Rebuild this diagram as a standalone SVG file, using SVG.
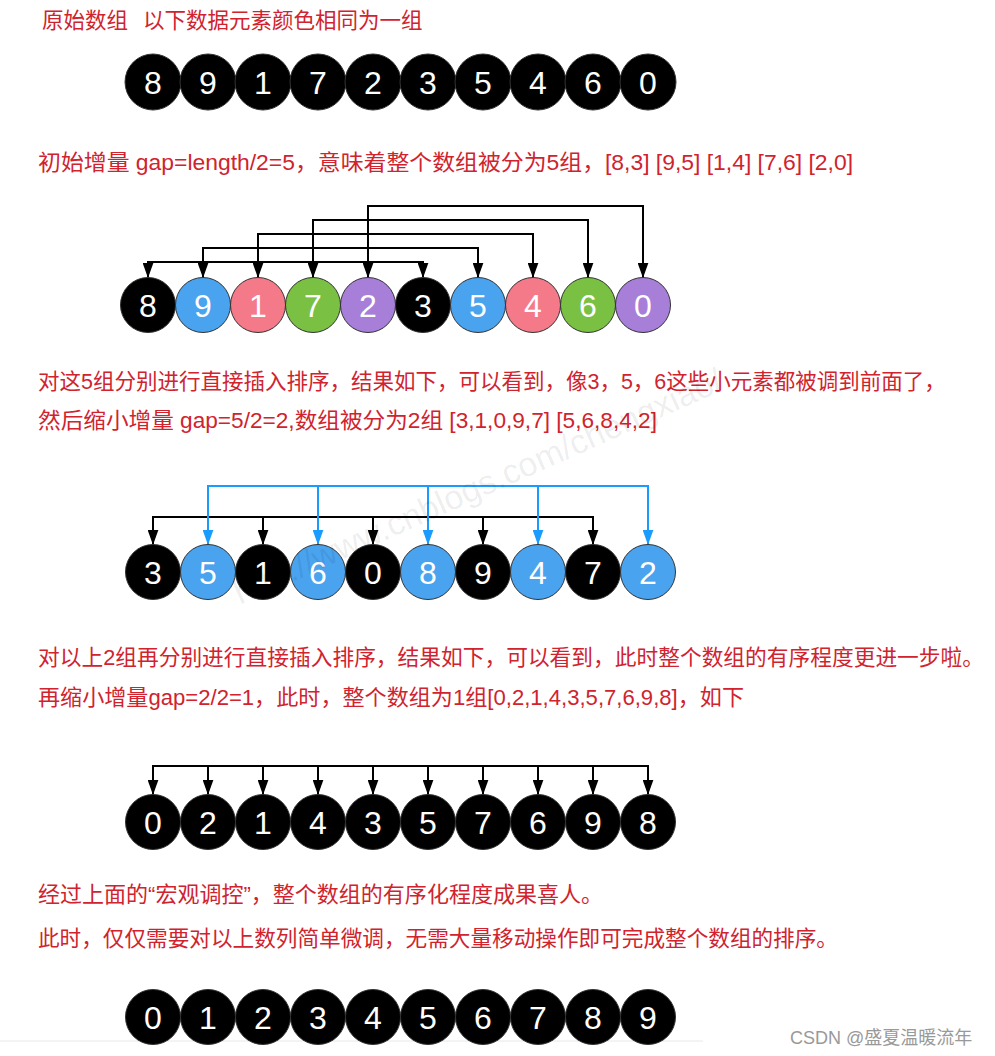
<svg xmlns="http://www.w3.org/2000/svg" width="995" height="1056" viewBox="0 0 995 1056">
<style>
.t{font-family:"Liberation Sans","Noto Sans CJK SC",sans-serif;font-size:21.5px;fill:#d0232e}
.n circle{stroke:#333;stroke-width:1}
.n text{font-family:"Liberation Sans",Arial,sans-serif;font-size:32px;fill:#fff;text-anchor:middle}
.k{fill:#000}.b{fill:#4aa3ee}.p{fill:#f47a8a}.g{fill:#7ac143}.v{fill:#a87fd8}
.cb{fill:none;stroke:#000;stroke-width:2}
.cl{fill:none;stroke:#1a9cff;stroke-width:2}
</style>
<defs>
<marker id="ak" viewBox="0 0 14 10" refX="14" refY="5" markerWidth="15" markerHeight="11" markerUnits="userSpaceOnUse" orient="auto-start-reverse"><path d="M0,0 L14,5 L0,10 z" fill="#000"/></marker>
<marker id="al" viewBox="0 0 14 10" refX="14" refY="5" markerWidth="15" markerHeight="11" markerUnits="userSpaceOnUse" orient="auto-start-reverse"><path d="M0,0 L14,5 L0,10 z" fill="#1a9cff"/></marker>
</defs>
<rect width="995" height="1056" fill="#fff"/>

<g id="texts">
<text class="t" x="42" y="28">原始数组<tspan x="143">以下数据元素颜色相同为一组</tspan></text>
<text class="t" x="38" y="170" textLength="815" lengthAdjust="spacingAndGlyphs">初始增量 gap=length/2=5，意味着整个数组被分为5组，[8,3] [9,5] [1,4] [7,6] [2,0]</text>
<text class="t" x="38" y="389">对这5组分别进行直接插入排序，结果如下，可以看到，像3，5，6这些小元素都被调到前面了，</text>
<text class="t" x="38" y="428" textLength="619" lengthAdjust="spacingAndGlyphs">然后缩小增量 gap=5/2=2,数组被分为2组 [3,1,0,9,7] [5,6,8,4,2]</text>
<text class="t" x="38" y="665" textLength="946" lengthAdjust="spacingAndGlyphs">对以上2组再分别进行直接插入排序，结果如下，可以看到，此时整个数组的有序程度更进一步啦。</text>
<text class="t" x="38" y="705" textLength="706" lengthAdjust="spacingAndGlyphs">再缩小增量gap=2/2=1，此时，整个数组为1组[0,2,1,4,3,5,7,6,9,8]，如下</text>
<text class="t" x="38" y="902" textLength="565" lengthAdjust="spacingAndGlyphs">经过上面的“宏观调控”，整个数组的有序化程度成果喜人。</text>
<text class="t" x="38" y="946" textLength="800" lengthAdjust="spacingAndGlyphs">此时，仅仅需要对以上数列简单微调，无需大量移动操作即可完成整个数组的排序。</text>
</g>

<g id="connectors">
<path class="cb" marker-start="url(#ak)" marker-end="url(#ak)" d="M148,278 V262 H423 V278"/>
<path class="cb" marker-start="url(#ak)" marker-end="url(#ak)" d="M203,278 V248 H478 V278"/>
<path class="cb" marker-start="url(#ak)" marker-end="url(#ak)" d="M258,278 V234 H533 V278"/>
<path class="cb" marker-start="url(#ak)" marker-end="url(#ak)" d="M313,278 V220 H588 V278"/>
<path class="cb" marker-start="url(#ak)" marker-end="url(#ak)" d="M368,278 V206 H643 V278"/>

<path class="cb" marker-start="url(#ak)" marker-end="url(#ak)" d="M153,545 V517 H593 V545"/>
<path class="cb" marker-end="url(#ak)" d="M263,517 V545"/>
<path class="cb" marker-end="url(#ak)" d="M373,517 V545"/>
<path class="cb" marker-end="url(#ak)" d="M483,517 V545"/>
<path class="cl" marker-start="url(#al)" marker-end="url(#al)" d="M208,545 V486 H648 V545"/>
<path class="cl" marker-end="url(#al)" d="M318,486 V545"/>
<path class="cl" marker-end="url(#al)" d="M428,486 V545"/>
<path class="cl" marker-end="url(#al)" d="M538,486 V545"/>

<path class="cb" marker-start="url(#ak)" marker-end="url(#ak)" d="M153,795 V766 H648 V795"/>
<path class="cb" marker-end="url(#ak)" d="M208,766 V795"/>
<path class="cb" marker-end="url(#ak)" d="M263,766 V795"/>
<path class="cb" marker-end="url(#ak)" d="M318,766 V795"/>
<path class="cb" marker-end="url(#ak)" d="M373,766 V795"/>
<path class="cb" marker-end="url(#ak)" d="M428,766 V795"/>
<path class="cb" marker-end="url(#ak)" d="M483,766 V795"/>
<path class="cb" marker-end="url(#ak)" d="M538,766 V795"/>
<path class="cb" marker-end="url(#ak)" d="M593,766 V795"/>
</g>

<g id="row1" class="n">
<g id="r1n0"><circle class="k" cx="153" cy="82" r="28"/><text x="153" y="94">8</text></g>
<g id="r1n1"><circle class="k" cx="208" cy="82" r="28"/><text x="208" y="94">9</text></g>
<g id="r1n2"><circle class="k" cx="263" cy="82" r="28"/><text x="263" y="94">1</text></g>
<g id="r1n3"><circle class="k" cx="318" cy="82" r="28"/><text x="318" y="94">7</text></g>
<g id="r1n4"><circle class="k" cx="373" cy="82" r="28"/><text x="373" y="94">2</text></g>
<g id="r1n5"><circle class="k" cx="428" cy="82" r="28"/><text x="428" y="94">3</text></g>
<g id="r1n6"><circle class="k" cx="483" cy="82" r="28"/><text x="483" y="94">5</text></g>
<g id="r1n7"><circle class="k" cx="538" cy="82" r="28"/><text x="538" y="94">4</text></g>
<g id="r1n8"><circle class="k" cx="593" cy="82" r="28"/><text x="593" y="94">6</text></g>
<g id="r1n9"><circle class="k" cx="648" cy="82" r="28"/><text x="648" y="94">0</text></g>
</g>

<g id="row2" class="n">
<g id="r2n0"><circle class="k" cx="148" cy="305" r="27.5"/><text x="148" y="317">8</text></g>
<g id="r2n1"><circle class="b" cx="203" cy="305" r="27.5"/><text x="203" y="317">9</text></g>
<g id="r2n2"><circle class="p" cx="258" cy="305" r="27.5"/><text x="258" y="317">1</text></g>
<g id="r2n3"><circle class="g" cx="313" cy="305" r="27.5"/><text x="313" y="317">7</text></g>
<g id="r2n4"><circle class="v" cx="368" cy="305" r="27.5"/><text x="368" y="317">2</text></g>
<g id="r2n5"><circle class="k" cx="423" cy="305" r="27.5"/><text x="423" y="317">3</text></g>
<g id="r2n6"><circle class="b" cx="478" cy="305" r="27.5"/><text x="478" y="317">5</text></g>
<g id="r2n7"><circle class="p" cx="533" cy="305" r="27.5"/><text x="533" y="317">4</text></g>
<g id="r2n8"><circle class="g" cx="588" cy="305" r="27.5"/><text x="588" y="317">6</text></g>
<g id="r2n9"><circle class="v" cx="643" cy="305" r="27.5"/><text x="643" y="317">0</text></g>
</g>

<g id="row3" class="n">
<g id="r3n0"><circle class="k" cx="153" cy="572" r="27.5"/><text x="153" y="584">3</text></g>
<g id="r3n1"><circle class="b" cx="208" cy="572" r="27.5"/><text x="208" y="584">5</text></g>
<g id="r3n2"><circle class="k" cx="263" cy="572" r="27.5"/><text x="263" y="584">1</text></g>
<g id="r3n3"><circle class="b" cx="318" cy="572" r="27.5"/><text x="318" y="584">6</text></g>
<g id="r3n4"><circle class="k" cx="373" cy="572" r="27.5"/><text x="373" y="584">0</text></g>
<g id="r3n5"><circle class="b" cx="428" cy="572" r="27.5"/><text x="428" y="584">8</text></g>
<g id="r3n6"><circle class="k" cx="483" cy="572" r="27.5"/><text x="483" y="584">9</text></g>
<g id="r3n7"><circle class="b" cx="538" cy="572" r="27.5"/><text x="538" y="584">4</text></g>
<g id="r3n8"><circle class="k" cx="593" cy="572" r="27.5"/><text x="593" y="584">7</text></g>
<g id="r3n9"><circle class="b" cx="648" cy="572" r="27.5"/><text x="648" y="584">2</text></g>
</g>

<g id="row4" class="n">
<g id="r4n0"><circle class="k" cx="153" cy="822" r="27.5"/><text x="153" y="834">0</text></g>
<g id="r4n1"><circle class="k" cx="208" cy="822" r="27.5"/><text x="208" y="834">2</text></g>
<g id="r4n2"><circle class="k" cx="263" cy="822" r="27.5"/><text x="263" y="834">1</text></g>
<g id="r4n3"><circle class="k" cx="318" cy="822" r="27.5"/><text x="318" y="834">4</text></g>
<g id="r4n4"><circle class="k" cx="373" cy="822" r="27.5"/><text x="373" y="834">3</text></g>
<g id="r4n5"><circle class="k" cx="428" cy="822" r="27.5"/><text x="428" y="834">5</text></g>
<g id="r4n6"><circle class="k" cx="483" cy="822" r="27.5"/><text x="483" y="834">7</text></g>
<g id="r4n7"><circle class="k" cx="538" cy="822" r="27.5"/><text x="538" y="834">6</text></g>
<g id="r4n8"><circle class="k" cx="593" cy="822" r="27.5"/><text x="593" y="834">9</text></g>
<g id="r4n9"><circle class="k" cx="648" cy="822" r="27.5"/><text x="648" y="834">8</text></g>
</g>

<line x1="0" y1="1041" x2="703" y2="1041" stroke="#e8e8e8" stroke-width="1"/>
<g id="row5" class="n">
<g id="r5n0"><circle class="k" cx="153" cy="1017" r="27.5"/><text x="153" y="1029">0</text></g>
<g id="r5n1"><circle class="k" cx="208" cy="1017" r="27.5"/><text x="208" y="1029">1</text></g>
<g id="r5n2"><circle class="k" cx="263" cy="1017" r="27.5"/><text x="263" y="1029">2</text></g>
<g id="r5n3"><circle class="k" cx="318" cy="1017" r="27.5"/><text x="318" y="1029">3</text></g>
<g id="r5n4"><circle class="k" cx="373" cy="1017" r="27.5"/><text x="373" y="1029">4</text></g>
<g id="r5n5"><circle class="k" cx="428" cy="1017" r="27.5"/><text x="428" y="1029">5</text></g>
<g id="r5n6"><circle class="k" cx="483" cy="1017" r="27.5"/><text x="483" y="1029">6</text></g>
<g id="r5n7"><circle class="k" cx="538" cy="1017" r="27.5"/><text x="538" y="1029">7</text></g>
<g id="r5n8"><circle class="k" cx="593" cy="1017" r="27.5"/><text x="593" y="1029">8</text></g>
<g id="r5n9"><circle class="k" cx="648" cy="1017" r="27.5"/><text x="648" y="1029">9</text></g>
</g>

<text id="watermark" x="240" y="605" transform="rotate(-24 240 605)" font-family="Liberation Sans,Arial,sans-serif" font-size="34" fill="#000" fill-opacity="0.08">http://www.cnblogs.com/chengxiao/</text>
<text id="csdn" x="790" y="1044" font-family="Liberation Sans,Noto Sans CJK SC,sans-serif" font-size="18" fill="#999">CSDN @盛夏温暖流年</text>
</svg>
